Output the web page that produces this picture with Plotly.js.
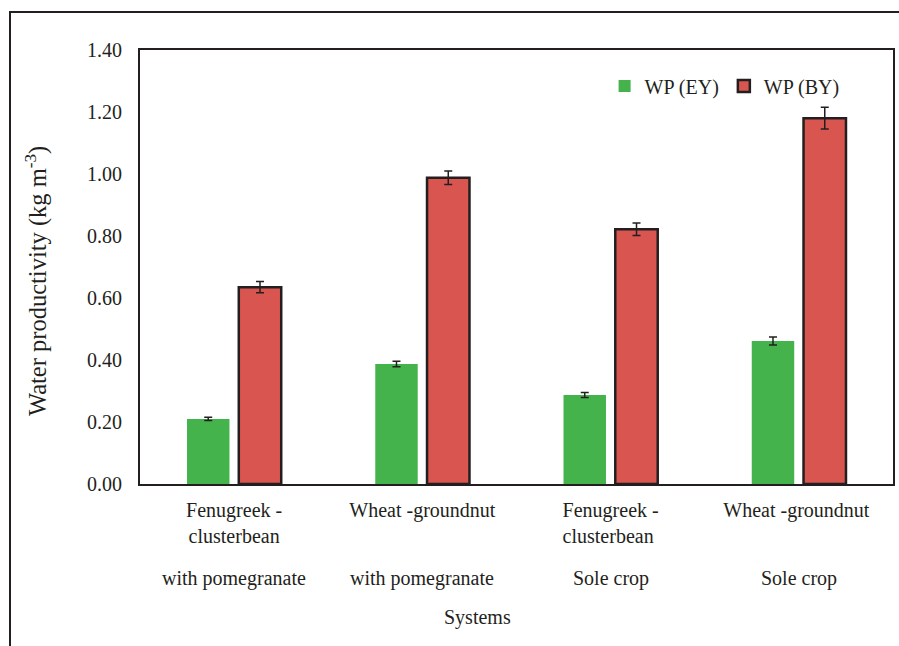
<!DOCTYPE html>
<html>
<head>
<meta charset="utf-8">
<script src="https://cdn.plot.ly/plotly-3.0.1.min.js"></script>
<style>html,body{margin:0;padding:0;background:#fff;}#chart{width:899px;height:646px;}</style>
</head>
<body>
<div id="chart"></div>
<script>
const categories = ["Fenugreek -<br>clusterbean", "Wheat -groundnut", "Fenugreek -<br>clusterbean ", "Wheat -groundnut "];
const secondRow = ["with pomegranate", "with pomegranate", "Sole crop", "Sole crop"];
const wpEY = [0.21, 0.387, 0.287, 0.461];
const wpEYerr = [0.005, 0.009, 0.008, 0.013];
const wpBY = [0.635, 0.988, 0.822, 1.18];
const wpBYerr = [0.018, 0.022, 0.02, 0.035];
const yTicks = [0, 0.2, 0.4, 0.6, 0.8, 1.0, 1.2, 1.4];

const FONT = "Liberation Serif, Times New Roman, serif";
const traces = [
  {type: "bar", name: "WP (EY)", x: categories, y: wpEY,
   marker: {color: "#44b34c", line: {width: 0}},
   error_y: {type: "data", array: wpEYerr, visible: true, color: "#231f20", thickness: 1.5, width: 4}},
  {type: "bar", name: "WP (BY)", x: categories, y: wpBY,
   marker: {color: "#d95550", line: {width: 2.5, color: "#231f20"}},
   error_y: {type: "data", array: wpBYerr, visible: true, color: "#231f20", thickness: 1.5, width: 4}}
];

const annotations = secondRow.map((t, i) => ({
  xref: "x", yref: "paper", x: categories[i], y: (484 - 578) / 434, yanchor: "middle",
  text: t, showarrow: false, font: {family: FONT, size: 20, color: "#231f20"}
}));
annotations.push({xref: "paper", yref: "paper", x: (477 - 140) / 753, y: (484 - 617) / 434,
  yanchor: "middle", text: "Systems", showarrow: false, font: {family: FONT, size: 20, color: "#231f20"}});
annotations.push({xref: "paper", yref: "paper", x: (36 - 140) / 753, y: (484 - 281) / 434,
  xanchor: "center", yanchor: "middle", textangle: -90,
  text: "Water productivity (kg m<sup>-3</sup>)", showarrow: false,
  font: {family: FONT, size: 24.5, color: "#231f20"}});

const layout = {
  width: 899, height: 646,
  margin: {l: 140, r: 6, t: 50, b: 162},
  paper_bgcolor: "#fff", plot_bgcolor: "#fff",
  font: {family: FONT, size: 20, color: "#231f20"},
  barmode: "group", bargap: 0.45, bargroupgap: 0.18,
  showlegend: true,
  legend: {orientation: "h", x: 0.617, y: 0.917, xanchor: "left", yanchor: "middle",
    font: {family: FONT, size: 20, color: "#231f20"}, bgcolor: "rgba(0,0,0,0)", itemwidth: 30, tracegroupgap: 0},
  xaxis: {showline: true, linewidth: 2, linecolor: "#231f20", mirror: true, ticks: "",
    showgrid: false, zeroline: false, ticklabelstandoff: 7, tickfont: {family: FONT, size: 20, color: "#231f20"}},
  yaxis: {range: [0, 1.4], tickvals: yTicks, tickformat: ".2f", showline: true, linewidth: 2,
    linecolor: "#231f20", mirror: true, ticks: "", showgrid: false, zeroline: false,
    ticklabelstandoff: 12, tickfont: {family: FONT, size: 20, color: "#231f20"}},
  annotations: annotations,
  shapes: [{type: "rect", xref: "paper", yref: "paper",
    x0: (10 - 140) / 753, x1: (910 - 140) / 753, y0: (484 - 660) / 434, y1: (484 - 12) / 434,
    line: {color: "#231f20", width: 2}, fillcolor: "rgba(0,0,0,0)", layer: "below"}]
};

Plotly.newPlot("chart", traces, layout, {staticPlot: true, displayModeBar: false});
</script>
</body>
</html>
